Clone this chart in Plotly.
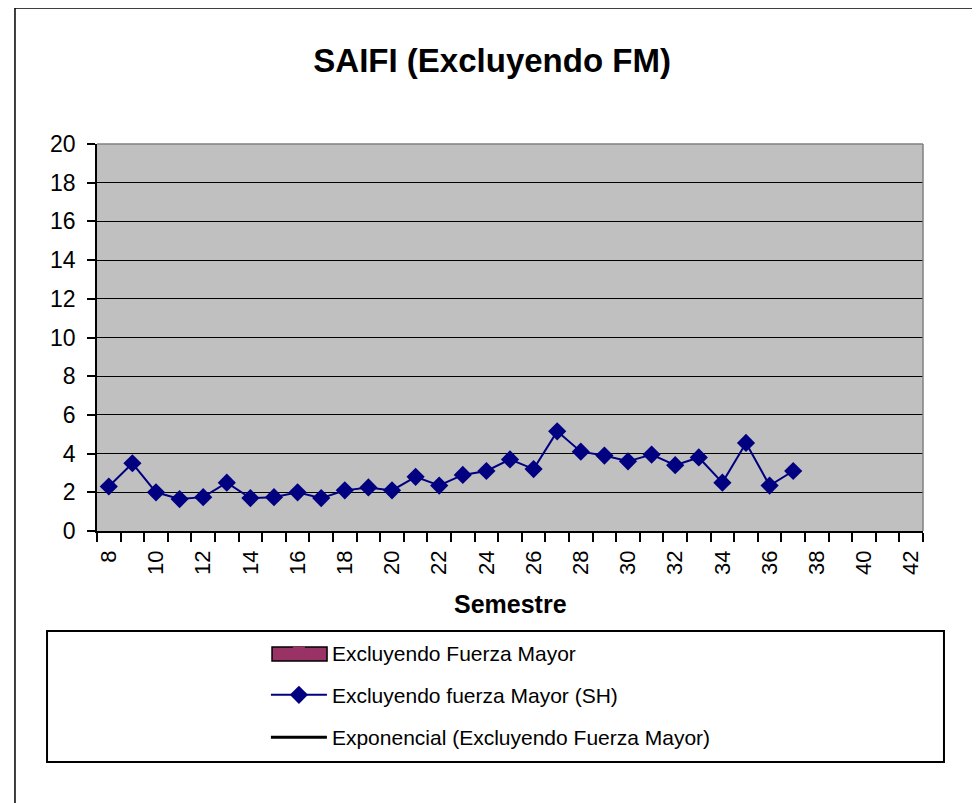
import plotly.graph_objects as go

# Semestre / SAIFI excluding force majeure (SH series)
semestres = list(range(8, 38))
saifi_sh = [2.3, 3.5, 2.0, 1.65, 1.75, 2.5, 1.7, 1.75, 2.0, 1.7,
            2.1, 2.25, 2.1, 2.8, 2.35, 2.9, 3.1, 3.7, 3.2, 5.15,
            4.1, 3.9, 3.6, 3.95, 3.4, 3.8, 2.5, 4.55, 2.35, 3.1]
x_tick_labels = list(range(8, 43, 2))
y_ticks = list(range(0, 21, 2))

FONT = "Arial, Liberation Sans, sans-serif"
BAR_COLOR = "#993366"

fig = go.Figure()

# legend-only entries (no visible marks in the source chart)
fig.add_trace(go.Bar(
    x=[None], y=[None], name="Excluyendo Fuerza Mayor", legendgroup="a",
    marker=dict(color=BAR_COLOR, line=dict(width=0)),
))
fig.add_trace(go.Scatter(
    x=semestres, y=saifi_sh, name="Excluyendo fuerza Mayor (SH)", legendgroup="b",
    mode="lines+markers",
    line=dict(color="#000080", width=2),
    marker=dict(symbol="diamond", size=14, color="#000080"),
))
fig.add_trace(go.Scatter(
    x=[None], y=[None], name="Exponencial (Excluyendo Fuerza Mayor)", legendgroup="c",
    mode="lines", line=dict(color="black", width=3),
))

fig.update_layout(
    width=980, height=803,
    margin=dict(l=89, r=65, t=136, b=280),
    paper_bgcolor="white",
    plot_bgcolor="#C0C0C0",
    font=dict(family=FONT, color="black"),
    title=dict(text="<b>SAIFI (Excluyendo FM)</b>", font=dict(size=33),
               x=0.494, xref="container", xanchor="center",
               y=1 - 52 / 803, yanchor="middle"),
    showlegend=True,
    legend=dict(x=0.2045, xanchor="left", y=-0.262, yanchor="top",
                font=dict(size=21), bgcolor="rgba(0,0,0,0)",
                traceorder="grouped", tracegroupgap=12, itemwidth=56),
)

fig.update_xaxes(
    range=[7.5, 42.5], tickmode="array", tickvals=x_tick_labels,
    ticktext=[str(v) for v in x_tick_labels], tickangle=-90,
    tickfont=dict(size=22), ticks="outside", ticklen=9,
    tickcolor="rgba(0,0,0,0)", ticklabelstandoff=0,
    showgrid=False, zeroline=False,
    showline=True, linecolor="black", linewidth=1.5,
    minor=dict(tickmode="linear", tick0=7.5, dtick=1, ticks="outside",
               ticklen=9, tickwidth=1.5, tickcolor="black", showgrid=False),
)
fig.update_yaxes(
    range=[0, 20], tickmode="array", tickvals=y_ticks,
    tickfont=dict(size=23), ticks="outside", ticklen=8, tickwidth=1.5,
    tickcolor="black", ticklabelstandoff=7,
    showgrid=True, gridcolor="black", gridwidth=1.3, zeroline=False,
    showline=True, linecolor="black", linewidth=1.5,
)

# axis title
fig.add_annotation(text="<b>Semestre</b>", x=0.5, y=-0.1886, xref="paper", yref="paper",
                   showarrow=False, font=dict(size=25), yanchor="middle")

# plot area top/right border (grey, Excel style)
fig.add_shape(type="line", xref="paper", yref="paper", x0=0, x1=1, y0=1, y1=1,
              line=dict(color="#808080", width=1.5))
fig.add_shape(type="line", xref="paper", yref="paper", x0=1, x1=1, y0=0, y1=1,
              line=dict(color="#808080", width=1.5))
# legend box
fig.add_shape(type="rect", xref="paper", yref="paper",
              x0=-0.0605, x1=1.0254, y0=-0.5969, y1=-0.2584,
              line=dict(color="black", width=2))
# wide swatch for the bar legend entry (Excel style)
fig.add_shape(type="rect", xref="paper", yref="paper",
              x0=0.2119, x1=0.2785, y0=-0.3359, y1=-0.2997,
              fillcolor=BAR_COLOR, line=dict(color="black", width=1.5))
# chart frame
fig.add_shape(type="rect", xref="paper", yref="paper",
              x0=-0.0993, x1=1.0605, y0=-0.74, y1=1.3514,
              line=dict(color="black", width=1.5))

fig.write_html("out.html")
